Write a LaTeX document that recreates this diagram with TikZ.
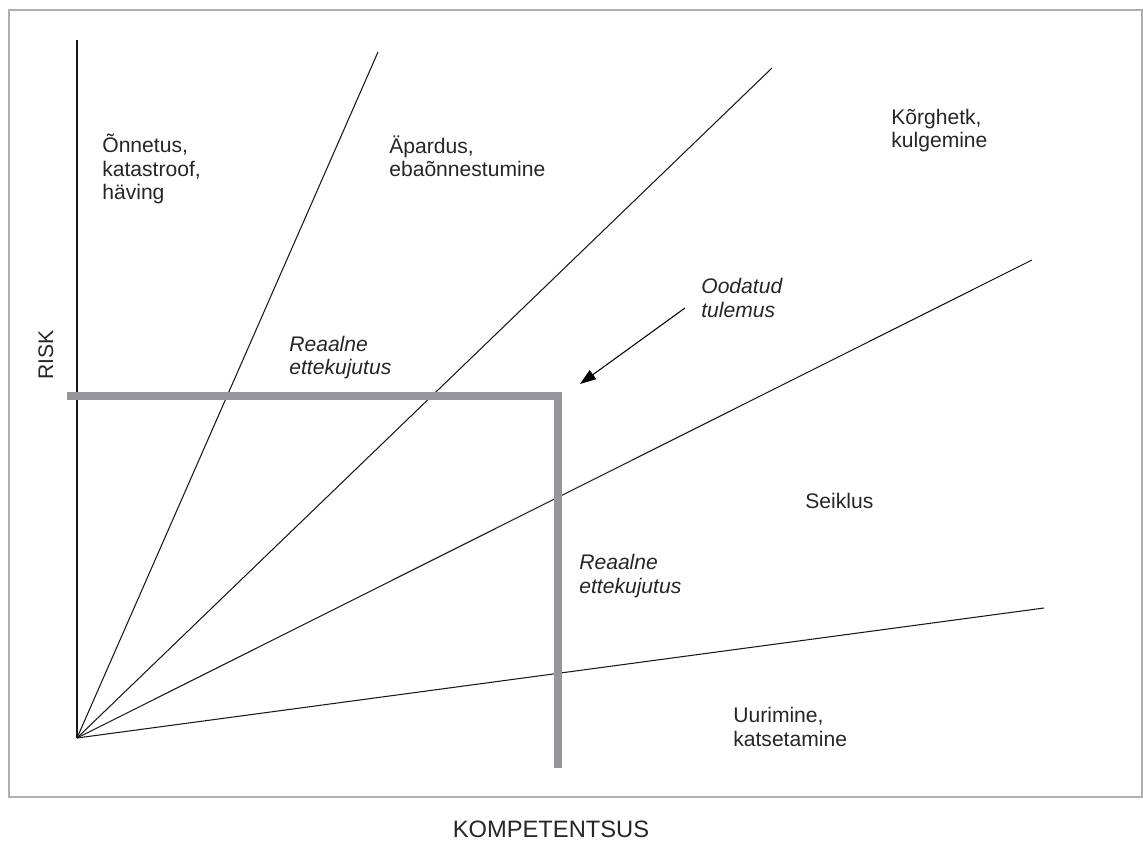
\documentclass[tikz,border=0pt]{standalone}
\usepackage{fontspec}
\setmainfont{Liberation Sans}
\usetikzlibrary{arrows.meta}
\definecolor{barGray}{RGB}{150,150,154}
\definecolor{frameGray}{RGB}{175,175,175}
\begin{document}
\begin{tikzpicture}[
  x=0.02cm, y=-0.02cm,
  every node/.style={
    align=left,
    inner sep=0pt,
    text=black!85,
    font=\fontsize{12}{13.6}\selectfont
  },
  zone/.style={anchor=base west},
  guess/.style={anchor=base west, font=\fontsize{12}{13.6}\selectfont\itshape},
  ray/.style={line width=0.6pt, black!90},
  bar/.style={line width=0.16cm, barGray},
  arrow/.style={-{Triangle[length=0.32cm, width=0.22cm]}, line width=0.6pt}
]
\useasboundingbox (0,0) rectangle (1143,841);
\draw[frameGray, line width=0.7pt] (9,10) rectangle (1142,797);

\coordinate (origin) at (77,738);
\coordinate (axisTop) at (77,40);
\coordinate (rayA) at (378,52);
\coordinate (rayB) at (772,68);
\coordinate (rayC) at (1032,260);
\coordinate (rayD) at (1044,608);
\coordinate (barLeft) at (67,396);
\coordinate (barCorner) at (558,396);
\coordinate (barFoot) at (558,768);
\coordinate (hintStart) at (685,308);
\coordinate (hintEnd) at (580,384);

\draw[ray] (origin) -- (axisTop);
\draw[ray] (origin) -- (rayA);
\draw[ray] (origin) -- (rayB);
\draw[ray] (origin) -- (rayC);
\draw[ray] (origin) -- (rayD);

\draw[bar] (barLeft) -- (barCorner) -- (barFoot);
\draw[arrow] (hintStart) -- (hintEnd);

\node[zone] (accident) at (102,200) {Õnnetus,\\katastroof,\\häving};
\node[zone] (mishap) at (389,177) {Äpardus,\\ebaõnnestumine};
\node[zone] (peak) at (891,148) {Kõrghetk,\\kulgemine};
\node[guess] (expected) at (701,317) {Oodatud\\tulemus};
\node[guess] (realTop) at (289,375) {Reaalne\\ettekujutus};
\node[guess] (realSide) at (579,593) {Reaalne\\ettekujutus};
\node[zone] (adventure) at (805,508) {Seiklus};
\node[zone] (explore) at (733,746) {Uurimine,\\katsetamine};
\node[rotate=90, anchor=base] (risk) at (53,355) {RISK};
\node[anchor=base, font=\fontsize{13.5}{15}\selectfont] (competence) at (551,837) {KOMPETENTSUS};
\end{tikzpicture}
\end{document}
